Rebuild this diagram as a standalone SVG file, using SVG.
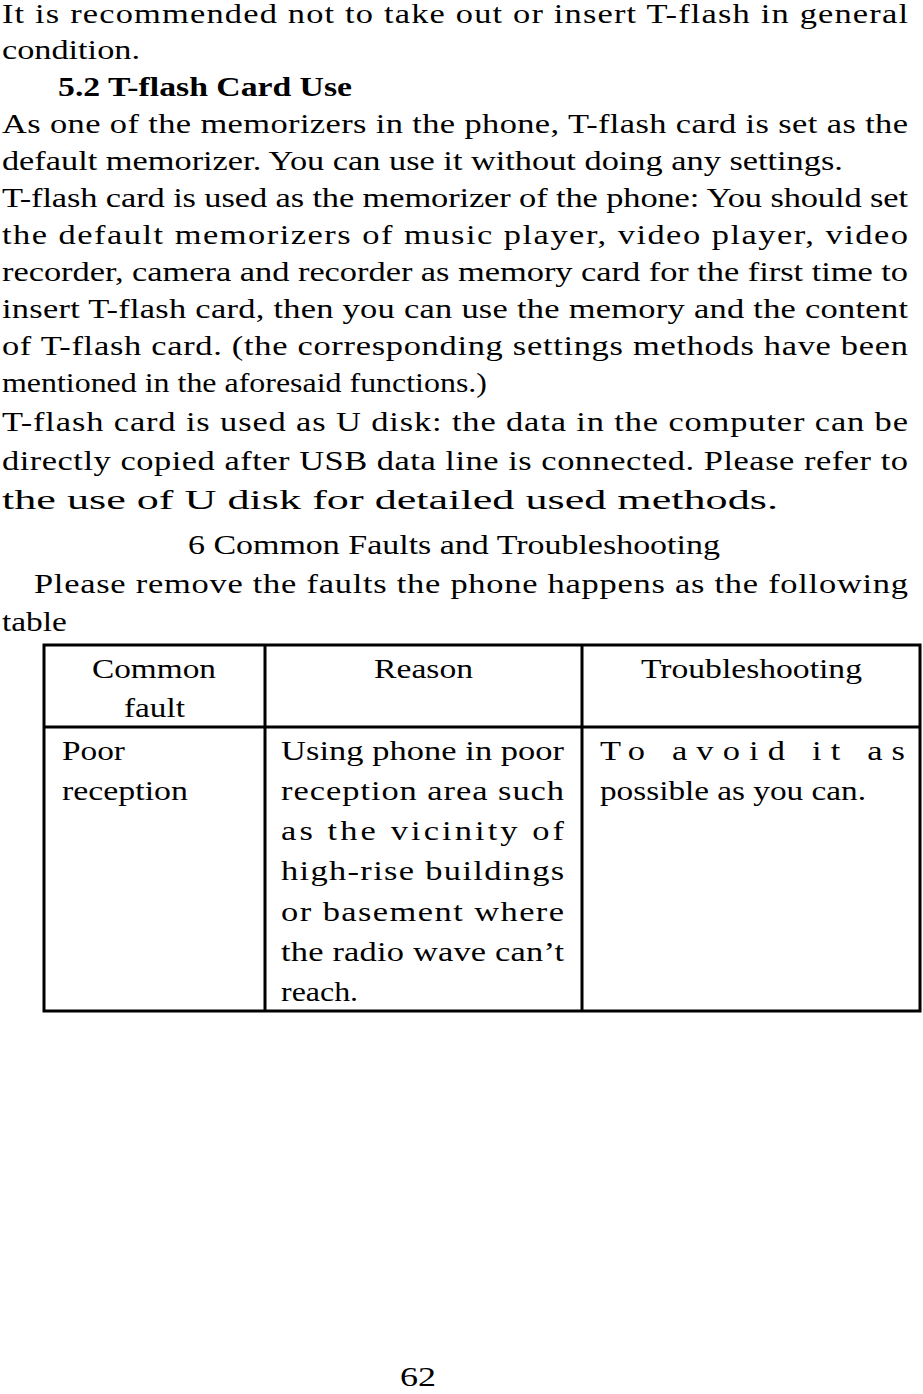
<svg xmlns="http://www.w3.org/2000/svg" width="923" height="1394" viewBox="0 0 923 1394">
<style>
text{font-family:"Liberation Serif","Times New Roman",serif;font-size:28px;fill:#000}
.b{font-weight:bold}
.t{stroke:#000;stroke-width:3;fill:none}
</style>
<rect width="923" height="1394" style="fill:#fff;stroke:none"/>
<g id="body" transform="scale(1.23 1)">
<text x="1.6" y="23" textLength="736.6" lengthAdjust="spacing">It is recommended not to take out or insert T-flash in general</text>
<text x="1.6" y="59" textLength="112.2" lengthAdjust="spacingAndGlyphs">condition.</text>
<text x="47.2" y="96" class="b" textLength="239" lengthAdjust="spacingAndGlyphs">5.2 T-flash Card Use</text>
<text x="1.6" y="133" textLength="736.6" lengthAdjust="spacing">As one of the memorizers in the phone, T-flash card is set as the</text>
<text x="1.6" y="170" textLength="683.7" lengthAdjust="spacingAndGlyphs">default memorizer. You can use it without doing any settings.</text>
<text x="1.6" y="207" textLength="736.6" lengthAdjust="spacing">T-flash card is used as the memorizer of the phone: You should set</text>
<text x="1.6" y="244" textLength="736.6" lengthAdjust="spacing">the default memorizers of music player, video player, video</text>
<text x="1.6" y="281" textLength="736.6" lengthAdjust="spacing">recorder, camera and recorder as memory card for the first time to</text>
<text x="1.6" y="318" textLength="736.6" lengthAdjust="spacing">insert T-flash card, then you can use the memory and the content</text>
<text x="1.6" y="355" textLength="736.6" lengthAdjust="spacing">of T-flash card. (the corresponding settings methods have been</text>
<text x="1.6" y="392" textLength="394.3" lengthAdjust="spacingAndGlyphs">mentioned in the aforesaid functions.)</text>
<text x="1.6" y="431" textLength="736.6" lengthAdjust="spacing">T-flash card is used as U disk: the data in the computer can be</text>
<text x="1.6" y="470" textLength="736.6" lengthAdjust="spacing">directly copied after USB data line is connected. Please refer to</text>
<text x="1.6" y="509" textLength="630.9" lengthAdjust="spacingAndGlyphs">the use of U disk for detailed used methods.</text>
<text x="152.8" y="554" textLength="432.5" lengthAdjust="spacingAndGlyphs">6 Common Faults and Troubleshooting</text>
<text x="27.6" y="593" textLength="710.6" lengthAdjust="spacing">Please remove the faults the phone happens as the following</text>
<text x="1.6" y="631" textLength="52.8" lengthAdjust="spacingAndGlyphs">table</text>
</g>
<g id="table">
<rect class="t" x="44" y="645" width="876" height="366"/>
<line class="t" x1="44" y1="727" x2="920" y2="727"/>
<line class="t" x1="265" y1="645" x2="265" y2="1011"/>
<line class="t" x1="582" y1="645" x2="582" y2="1011"/>
<g transform="scale(1.23 1)">
<text x="74.8" y="678" textLength="100.8" lengthAdjust="spacingAndGlyphs">Common</text>
<text x="100.8" y="717" textLength="49.6" lengthAdjust="spacingAndGlyphs">fault</text>
<text x="304.1" y="678" textLength="80.5" lengthAdjust="spacingAndGlyphs">Reason</text>
<text x="521.1" y="678" textLength="179.7" lengthAdjust="spacingAndGlyphs">Troubleshooting</text>
<text x="50.4" y="760" textLength="51.2" lengthAdjust="spacingAndGlyphs">Poor</text>
<text x="50.4" y="800" textLength="102.4" lengthAdjust="spacingAndGlyphs">reception</text>
<text x="228.5" y="760" textLength="230.1" lengthAdjust="spacing">Using phone in poor</text>
<text x="228.5" y="800" textLength="230.1" lengthAdjust="spacing">reception area such</text>
<text x="228.5" y="840" textLength="230.1" lengthAdjust="spacing">as the vicinity of</text>
<text x="228.5" y="880" textLength="230.1" lengthAdjust="spacing">high-rise buildings</text>
<text x="228.5" y="921" textLength="230.1" lengthAdjust="spacing">or basement where</text>
<text x="228.5" y="961" textLength="230.1" lengthAdjust="spacing">the radio wave can’t</text>
<text x="228.5" y="1001" textLength="62.6" lengthAdjust="spacingAndGlyphs">reach.</text>
<text x="487.8" y="760" textLength="248" lengthAdjust="spacing">To avoid it as</text>
<text x="487.8" y="800" textLength="216.3" lengthAdjust="spacingAndGlyphs">possible as you can.</text>
</g>
</g>
<g transform="scale(1.23 1)">
<text x="325.2" y="1386" textLength="29.3" lengthAdjust="spacingAndGlyphs">62</text>
</g>
</svg>
